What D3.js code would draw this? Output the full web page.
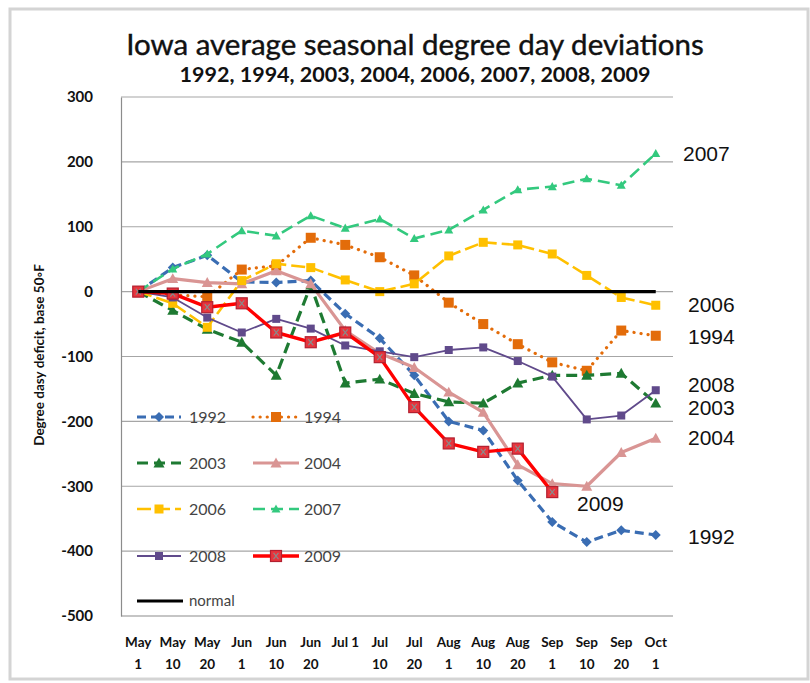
<!DOCTYPE html>
<html><head><meta charset="utf-8">
<script src="https://cdn.jsdelivr.net/npm/d3@7"></script>
<style>body{margin:0;background:#fff}svg{display:block}</style>
</head><body>
<svg id="c" width="810" height="683"></svg>
<script>
const categories = ["May 1","May 10","May 20","Jun 1","Jun 10","Jun 20","Jul 1","Jul 10","Jul 20","Aug 1","Aug 10","Aug 20","Sep 1","Sep 10","Sep 20","Oct 1"];
const xLine1 = ["May","May","May","Jun","Jun","Jun","Jul 1","Jul","Jul","Aug","Aug","Aug","Sep","Sep","Sep","Oct"];
const xLine2 = ["1","10","20","1","10","20","","10","20","1","10","20","1","10","20","1"];
const yTicks = [300,200,100,0,-100,-200,-300,-400,-500];

const y1992 = [0,37,56,15,14,17,-34,-72,-129,-200,-214,-291,-355,-386,-368,-375];
const y1994 = [0,-5,-8,34,40,83,72,53,25,-17,-50,-81,-109,-122,-60,-68];
const y2003 = [0,-29,-58,-78,-129,10,-141,-135,-157,-170,-172,-141,-129,-129,-126,-172];
const y2004 = [0,20,14,12,32,12,-60,-95,-117,-155,-186,-267,-296,-300,-248,-226];
const y2006 = [0,-18,-55,17,43,37,18,0,12,55,76,72,58,25,-9,-21];
const y2007 = [0,35,58,94,86,117,98,112,82,95,126,157,162,174,164,213];
const y2008 = [0,-9,-40,-63,-42,-57,-83,-92,-101,-90,-86,-107,-131,-197,-191,-152];
const y2009 = [0,-3,-24,-18,-63,-78,-63,-101,-178,-234,-247,-242,-309,null,null,null];
const normal = [0,0,0,0,0,0,0,0,0,0,0,0,0,0,0,0];

const series = [
  {name:"1992", values:y1992, color:"#3A6DB3", width:3.2, dash:"9,5", marker:"diamond", ms:10, label:{x:688,y:537}},
  {name:"1994", values:y1994, color:"#E36C0A", width:3.2, dash:"0.1,7", cap:"round", marker:"square", ms:10, label:{x:688,y:337}},
  {name:"2003", values:y2003, color:"#1E7A32", width:3.2, dash:"11,6", marker:"triangle", ms:11, label:{x:688,y:408}},
  {name:"2004", values:y2004, color:"#D99594", width:3.2, dash:null, marker:"triangle", ms:11, label:{x:688,y:438}},
  {name:"2006", values:y2006, color:"#FFC000", width:2.6, dash:"14,5", marker:"square", ms:9, label:{x:688,y:305}},
  {name:"2007", values:y2007, color:"#33C97E", width:2.6, dash:"12,6", marker:"triangle", ms:9, label:{x:683,y:154}},
  {name:"2008", values:y2008, color:"#604A8B", width:1.8, dash:null, marker:"square", ms:8, label:{x:688,y:385}},
  {name:"2009", values:y2009, color:"#FF0000", width:3.4, dash:null, marker:"xsquare", ms:11, label:{x:577,y:504}}
];

const svg = d3.select("#c");
// outer frame
svg.append("rect").attr("x",10).attr("y",9).attr("width",798).attr("height",670)
  .attr("fill","#fff").attr("stroke","#d4d4d4").attr("stroke-width",3);

const x = d3.scaleBand().domain(categories).range([121,673]).padding(0);
const cx = c => x(c) + x.bandwidth()/2;
const y = d3.scaleLinear().domain([-500,300]).range([616,97]);

// gridlines
svg.append("g").selectAll("line").data(yTicks).join("line")
  .attr("x1",121).attr("x2",673).attr("y1",d=>y(d)).attr("y2",d=>y(d))
  .attr("stroke",d=>d===-500?"#8c8c8c":"#a6a6a6").attr("stroke-width",1.2);

// y axis
const yAxis = svg.append("g").attr("transform","translate(121,0)")
  .call(d3.axisLeft(y).tickValues(yTicks).tickSize(0).tickPadding(28).tickFormat(d=>String(d)));
yAxis.select(".domain").attr("stroke","#8c8c8c").attr("stroke-width",1.2);
yAxis.selectAll("text").attr("font-family","Lato, sans-serif").attr("font-weight","bold")
  .attr("font-size",15).attr("fill","#111");

// x axis
const xAxis = svg.append("g").attr("transform","translate(0,616)")
  .call(d3.axisBottom(x).tickSize(0).tickPadding(0).tickFormat(""));
xAxis.select(".domain").remove();
xAxis.selectAll(".tick").each(function(d,i){
  const t = d3.select(this).append("text").attr("fill","#111")
    .attr("font-family","Lato, sans-serif").attr("font-weight","bold").attr("font-size",13.5)
    .attr("text-anchor","middle");
  t.append("tspan").attr("x",0).attr("y",31).text(xLine1[i]);
  t.append("tspan").attr("x",0).attr("y",53).text(xLine2[i]);
});

// title
svg.append("text").attr("x",415).attr("y",55).attr("text-anchor","middle")
  .attr("font-family","Lato, sans-serif").attr("font-size",29.5).attr("fill","#111")
  .attr("stroke","#111").attr("stroke-width",0.4)
  .text("Iowa average seasonal degree day deviations");
svg.append("text").attr("x",415).attr("y",82).attr("text-anchor","middle")
  .attr("font-family","Lato, sans-serif").attr("font-weight","bold").attr("font-size",21.5).attr("fill","#111")
  .text("1992, 1994, 2003, 2004, 2006, 2007, 2008, 2009");
// y title
svg.append("text").attr("transform","translate(44,355) rotate(-90)").attr("text-anchor","middle")
  .attr("font-family","Lato, sans-serif").attr("font-weight","bold").attr("font-size",13.5).attr("fill","#111")
  .text("Degree dasy deficit, base 50\u25E6F");

function marker(g, type, size, color){
  const s = size/2;
  if(type==="diamond"){
    g.append("path").attr("d",`M0,${-s}L${s},0L0,${s}L${-s},0Z`).attr("fill",color);
  } else if(type==="square"){
    g.append("rect").attr("x",-s).attr("y",-s).attr("width",size).attr("height",size).attr("fill",color);
  } else if(type==="triangle"){
    g.append("path").attr("d",`M0,${-s}L${s},${s*0.8}L${-s},${s*0.8}Z`).attr("fill",color);
  } else if(type==="xsquare"){
    g.append("rect").attr("x",-s).attr("y",-s).attr("width",size).attr("height",size)
      .attr("fill","#E8343C").attr("stroke","#B22030").attr("stroke-width",1.2);
    g.append("path").attr("d",`M${-s*0.45},${-s*0.55}L${s*0.45},${s*0.55}M${s*0.45},${-s*0.55}L${-s*0.45},${s*0.55}`)
      .attr("stroke","#8a8a8a").attr("stroke-width",1.2);
  }
}

const line = d3.line().defined(d=>d.v!==null).x(d=>cx(d.c)).y(d=>y(d.v));
series.forEach(s=>{
  const data = categories.map((c,i)=>({c, v:s.values[i]}));
  const g = svg.append("g");
  g.append("path").datum(data).attr("d",line).attr("fill","none")
    .attr("stroke",s.color).attr("stroke-width",s.width)
    .attr("stroke-dasharray",s.dash).attr("stroke-linecap",s.cap||"butt").attr("stroke-linejoin","round");
  data.filter(d=>d.v!==null).forEach(d=>{
    marker(g.append("g").attr("transform",`translate(${cx(d.c)},${y(d.v)})`), s.marker, s.ms, s.color);
  });
  svg.append("text").attr("x",s.label.x).attr("y",s.label.y).attr("dy","0.35em")
    .attr("font-family","Liberation Sans, Arial, sans-serif").attr("font-size",21).attr("fill","#111")
    .text(s.name);
});

// normal line
svg.append("path").datum(categories.map((c,i)=>({c, v:normal[i]}))).attr("d",line)
  .attr("fill","none").attr("stroke","#000").attr("stroke-width",3.2);

// legend
const legRows = [417,463,509,556];
const legItems = series.map((s,i)=>({s, row:Math.floor(i/2), col:i%2}));
const lg = svg.append("g");
legItems.forEach(it=>{
  const x0 = it.col===0 ? 137 : 253;
  const x1 = it.col===0 ? 181 : 299;
  const tx = it.col===0 ? 189 : 304;
  const yy = legRows[it.row];
  lg.append("line").attr("x1",x0).attr("x2",x1).attr("y1",yy).attr("y2",yy)
    .attr("stroke",it.s.color).attr("stroke-width",it.s.width)
    .attr("stroke-dasharray",it.s.dash).attr("stroke-linecap",it.s.cap||"butt");
  marker(lg.append("g").attr("transform",`translate(${(x0+x1)/2},${yy})`), it.s.marker, it.s.ms, it.s.color);
  lg.append("text").attr("x",tx).attr("y",yy).attr("dy","0.35em")
    .attr("font-family","Lato, sans-serif").attr("font-size",16).attr("fill","#444").text(it.s.name);
});
lg.append("line").attr("x1",137).attr("x2",183).attr("y1",601).attr("y2",601)
  .attr("stroke","#000").attr("stroke-width",3.2);
lg.append("text").attr("x",189).attr("y",601).attr("dy","0.35em")
  .attr("font-family","Lato, sans-serif").attr("font-size",15).attr("fill","#444").text("normal");
</script>
</body></html>
